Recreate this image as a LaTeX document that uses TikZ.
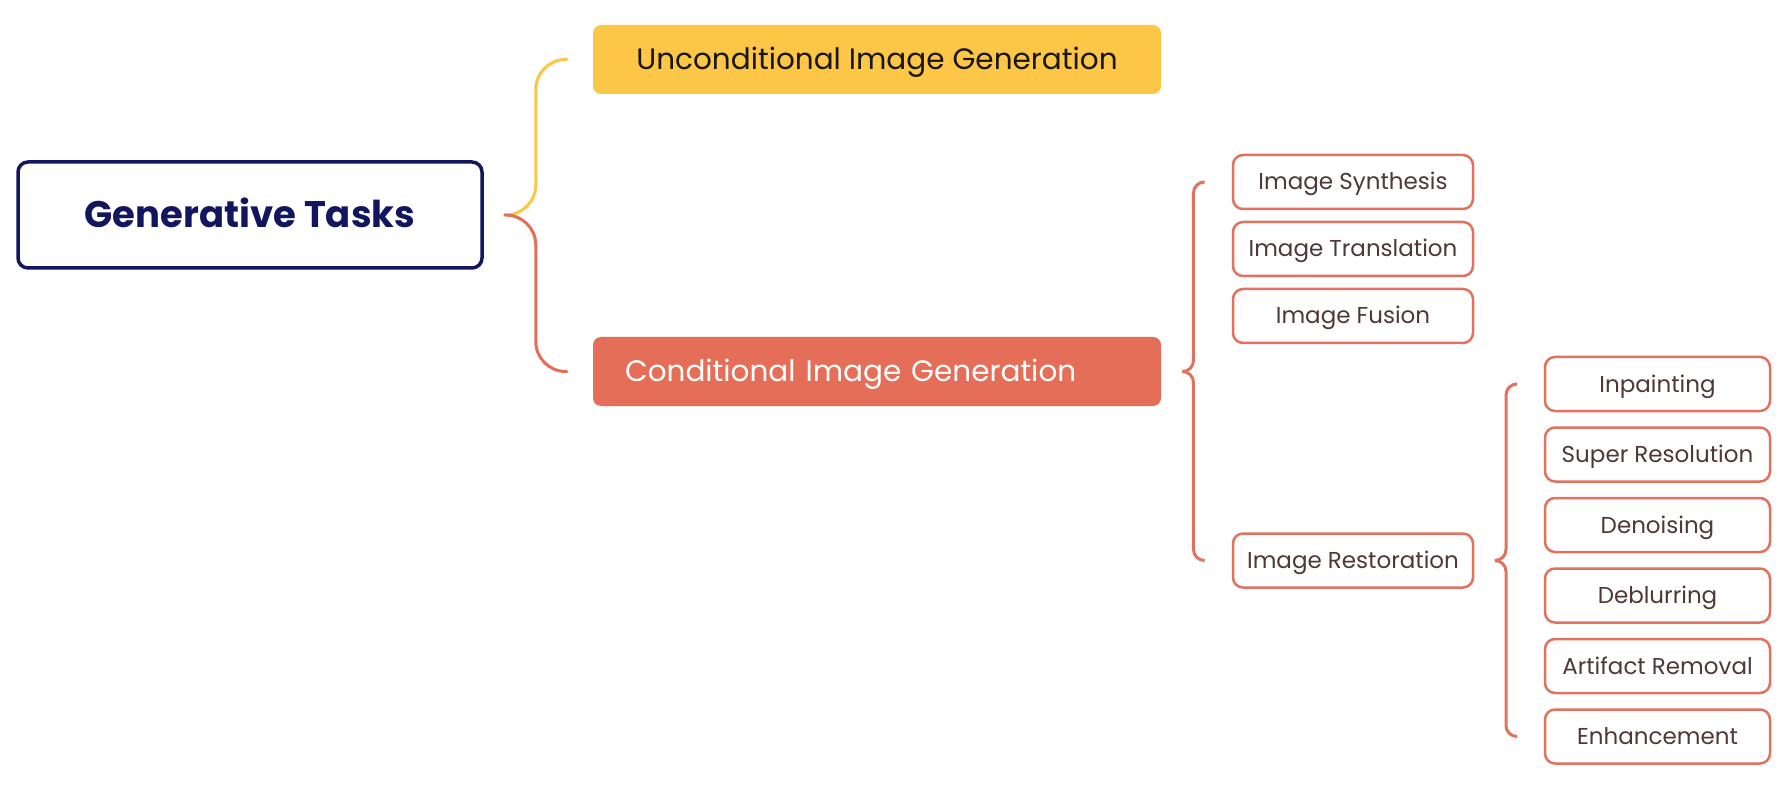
\documentclass[tikz,border=0pt]{standalone}
\usepackage{fontspec}
\setmainfont{Poppins}
\usetikzlibrary{positioning,calc}

\definecolor{gtNavy}{RGB}{17,22,94}
\definecolor{gtYellow}{RGB}{252,198,70}
\definecolor{gtRed}{RGB}{228,110,88}
\definecolor{gtEdge}{RGB}{226,114,96}
\definecolor{gtInk}{RGB}{26,22,22}
\definecolor{gtText}{RGB}{78,56,56}

\tikzset{
  rootbox/.style={draw=gtNavy, line width=3.5pt, rounded corners=10pt, minimum width=464pt, minimum height=106pt, inner sep=0pt, text height=26pt, text depth=0pt, text=gtNavy, font=\bfseries\fontsize{37}{42}\selectfont},
  genbox/.style={rounded corners=8pt, minimum width=568pt, minimum height=69pt, inner sep=0pt, text height=20.6pt, text depth=0pt, font=\fontsize{29.5}{34}\selectfont},
  taskbox/.style={draw=gtEdge, fill=white, line width=2.5pt, rounded corners=10pt, minimum height=54pt, inner sep=0pt, text height=16pt, text depth=0pt, text=gtText, font=\fontsize{23}{27}\selectfont},
  midbox/.style={taskbox, minimum width=240pt},
  leafbox/.style={taskbox, minimum width=225pt},
  bracket/.style={line width=3pt, line cap=round, to path={-| ($(\tikztostart)!0.5!(\tikztotarget)$) |- (\tikztotarget)}},
}

\begin{document}
\begin{tikzpicture}[x=1pt, y=-1pt]
% Canvas
\path[fill=white] (0,0) rectangle (1792,794);
% Root
\node[rootbox] (root) at (250,215) {Generative Tasks};
% First level
\node[genbox, fill=gtYellow, text=gtInk] (uncond) at (877,59.5) {Unconditional Image Generation};
\node[genbox, fill=gtRed, text=white, text width=504pt, inner xsep=32pt, align=left] (cond) at (877,371.5) {Conditional Image Generation};
% Conditional tasks
\node[midbox] (synth) at (1353,182) {Image Synthesis};
\node[midbox, below=10.5pt of synth] (transl) {Image Translation};
\node[midbox, below=10.5pt of transl] (fusion) {Image Fusion};
\node[midbox] (restor) at (1353,560.5) {Image Restoration};
% Restoration tasks
\node[leafbox] (inpaint) at (1657.5,384) {Inpainting};
\node[leafbox, below=14pt of inpaint] (superres) {Super Resolution};
\node[leafbox, below=14pt of superres] (denoise) {Denoising};
\node[leafbox, below=14pt of denoise] (deblur) {Deblurring};
\node[leafbox, below=14pt of deblur] (artifact) {Artifact Removal};
\node[leafbox, below=14pt of artifact] (enhance) {Enhancement};
% Brackets
\draw[bracket, gtYellow, rounded corners=30pt] ([xshift=21pt]root.east) to ([xshift=-26pt]uncond.west);
\draw[bracket, gtRed, rounded corners=30pt] ([xshift=21pt]root.east) to ([xshift=-26pt]cond.west);
\draw[bracket, gtEdge, rounded corners=11pt] ([xshift=22pt]cond.east) to ([xshift=-28pt]synth.west);
\draw[bracket, gtEdge, rounded corners=11pt] ([xshift=22pt]cond.east) to ([xshift=-28pt]restor.west);
\draw[bracket, gtEdge, rounded corners=11pt] ([xshift=22pt]restor.east) to ([xshift=-28pt]inpaint.west);
\draw[bracket, gtEdge, rounded corners=11pt] ([xshift=22pt]restor.east) to ([xshift=-28pt]enhance.west);
\end{tikzpicture}
\end{document}
